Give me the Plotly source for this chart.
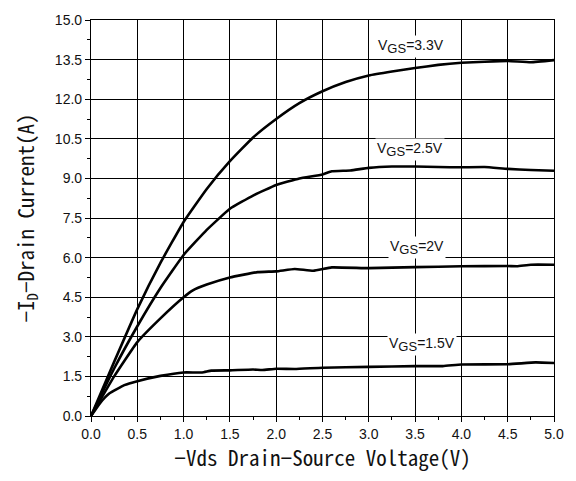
import plotly.graph_objects as go

# Output characteristics: -Id vs -Vds for several gate voltages
vds_33 = [0, 0.25, 0.5, 0.75, 1.0, 1.25, 1.5, 1.75, 2.0, 2.25, 2.5, 2.75, 3.0, 3.25, 3.5, 3.75, 4.0, 4.25, 4.5, 4.75, 5.0]
id_33 = [0, 2.05, 4.05, 5.8, 7.35, 8.6, 9.65, 10.55, 11.25, 11.85, 12.3, 12.65, 12.9, 13.05, 13.18, 13.3, 13.38, 13.42, 13.45, 13.4, 13.48]

vds_25 = [0, 0.25, 0.5, 0.75, 1.0, 1.25, 1.5, 1.75, 2.0, 2.25, 2.5, 2.6, 2.8, 3.0, 3.25, 3.5, 3.75, 4.0, 4.25, 4.5, 4.75, 5.0]
id_25 = [0, 1.8, 3.4, 4.85, 6.1, 7.05, 7.85, 8.35, 8.75, 9.0, 9.15, 9.27, 9.3, 9.4, 9.45, 9.45, 9.43, 9.42, 9.43, 9.36, 9.32, 9.29]

vds_20 = [0, 0.25, 0.5, 0.75, 1.0, 1.1, 1.25, 1.5, 1.8, 2.0, 2.2, 2.4, 2.6, 3.0, 3.5, 4.0, 4.5, 4.6, 4.75, 5.0]
id_20 = [0, 1.5, 2.8, 3.7, 4.5, 4.76, 4.98, 5.25, 5.45, 5.48, 5.57, 5.5, 5.63, 5.6, 5.64, 5.67, 5.68, 5.67, 5.73, 5.73]

vds_15 = [0, 0.1, 0.2, 0.36, 0.5, 0.75, 1.0, 1.2, 1.3, 1.5, 1.75, 1.85, 2.0, 2.2, 2.5, 3.0, 3.5, 3.8, 4.0, 4.5, 4.8, 5.0]
id_15 = [0, 0.5, 0.86, 1.17, 1.32, 1.52, 1.65, 1.65, 1.72, 1.73, 1.76, 1.74, 1.79, 1.78, 1.83, 1.86, 1.89, 1.89, 1.95, 1.96, 2.03, 2.01]

sub_style = "<sub><span style='font-size:13px'>GS</span></sub>"
curve_labels = [f"V{sub_style}=3.3V", f"V{sub_style}=2.5V", f"V{sub_style}=2V", f"V{sub_style}=1.5V"]
label_x = [3.46, 3.45, 3.52, 3.57]
label_y = [14.0, 10.1, 6.4, 2.7]

x_ticks = [0, 0.5, 1.0, 1.5, 2.0, 2.5, 3.0, 3.5, 4.0, 4.5, 5.0]
y_ticks = [0, 1.5, 3.0, 4.5, 6.0, 7.5, 9.0, 10.5, 12.0, 13.5, 15.0]

fig = go.Figure()
for xs, ys in [(vds_33, id_33), (vds_25, id_25), (vds_20, id_20), (vds_15, id_15)]:
    fig.add_trace(go.Scatter(x=xs, y=ys, mode="lines",
                             line=dict(color="black", width=2.6, shape="spline", smoothing=0.35),
                             showlegend=False, hoverinfo="skip"))

for txt, lx, ly in zip(curve_labels, label_x, label_y):
    fig.add_annotation(x=lx, y=ly, text=txt, showarrow=False,
                       font=dict(family="Liberation Sans, Arial", size=14, color="#111"),
                       bgcolor="white", borderpad=1)

title_font = dict(family="Noto Sans Mono CJK SC, Noto Sans CJK SC, DejaVu Sans Mono", size=21, color="#111")
tick_font = dict(family="Liberation Sans, Arial", size=14, color="#111")

fig.update_xaxes(range=[0, 5], tickvals=x_ticks, ticktext=[f"{v:.1f}" for v in x_ticks],
                 showgrid=True, gridcolor="black", gridwidth=1,
                 showline=True, linecolor="black", linewidth=1.2, mirror=True,
                 ticks="outside", ticklen=5, tickcolor="black",
                 minor=dict(dtick=0.25, ticks="outside", ticklen=3, tickcolor="black", showgrid=False),
                 zeroline=False, tickfont=tick_font,
                 title=dict(text="−Vds Drain−Source Voltage(V)", font=title_font, standoff=10))
fig.update_yaxes(range=[0, 15], tickvals=y_ticks, ticktext=[f"{v:.1f}" for v in y_ticks],
                 showgrid=True, gridcolor="black", gridwidth=1,
                 showline=True, linecolor="black", linewidth=1.2, mirror=True,
                 ticks="outside", ticklen=5, tickcolor="black",
                 minor=dict(dtick=0.75, ticks="outside", ticklen=3, tickcolor="black", showgrid=False),
                 zeroline=False, tickfont=tick_font,
                 title=dict(text="−I<sub>D</sub>−Drain Current(A)", font=title_font, standoff=14))

fig.update_layout(width=576, height=481, margin=dict(l=91, r=13, t=19, b=65),
                  plot_bgcolor="white", paper_bgcolor="white")

fig.write_html("out.html")
